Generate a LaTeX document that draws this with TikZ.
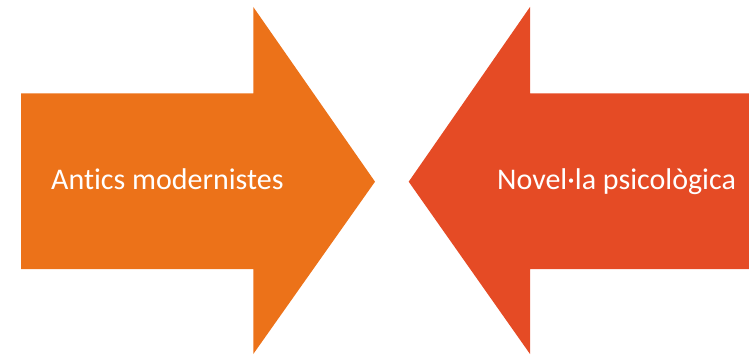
\documentclass[tikz,border=0pt]{standalone}
\usepackage{fontspec}
\setmainfont[Ligatures=NoCommon]{Carlito}
\definecolor{arrowA}{HTML}{EC7219}
\definecolor{arrowB}{HTML}{E54B25}
\begin{document}
\begin{tikzpicture}[x=1pt,y=-1pt,
  label text/.style={text=white,font=\fontsize{30}{35}\selectfont,inner sep=0pt,anchor=base west}]
\useasboundingbox (0,0) rectangle (749,355);
\fill[arrowA] (21,93.3) -- (253.3,93.3) -- (253.3,7) -- (375,181.7) -- (253.3,354) -- (253.3,269) -- (21,269) -- cycle;
\fill[arrowB] (749,93.3) -- (530,93.3) -- (530,7) -- (408.7,181.7) -- (530,354) -- (530,269) -- (749,269) -- cycle;
\node[label text] (a) at (51,190) {Antics modernistes};
\node[label text] (b) at (497,190) {Novel·la psicològica};
\end{tikzpicture}
\end{document}
